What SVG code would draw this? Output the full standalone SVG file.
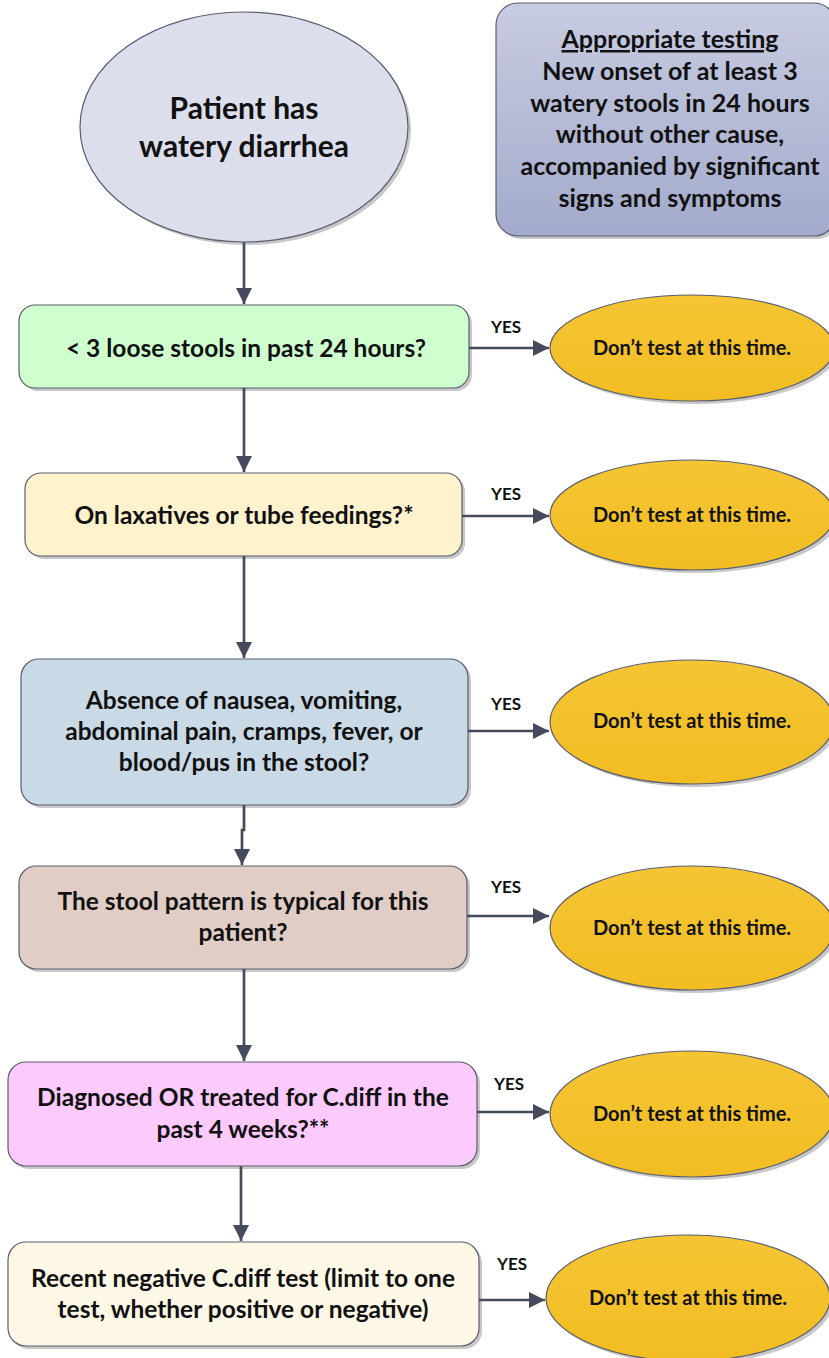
<svg xmlns="http://www.w3.org/2000/svg" width="829" height="1358" viewBox="0 0 829 1358">
<defs>
<linearGradient id="gInfo" x1="0" y1="0" x2="0" y2="1"><stop offset="0" stop-color="#c8cce2"/><stop offset="1" stop-color="#a3aacb"/></linearGradient>
<linearGradient id="gGold" x1="0" y1="0" x2="0" y2="1"><stop offset="0" stop-color="#f5c534"/><stop offset="1" stop-color="#f2bd22"/></linearGradient>
<marker id="arr" viewBox="0 0 10 10" refX="10" refY="5" markerWidth="6" markerHeight="6" markerUnits="strokeWidth" orient="auto"><path d="M0,0 L10,5 L0,10 z" fill="#474a5c"/></marker>
</defs>
<style>
.sh{fill:#9a9a9a;opacity:0.55}
.box{stroke:#5a5d6e;stroke-width:1.2}
.t{font-family:Lato,"Open Sans","Liberation Sans",sans-serif;font-weight:bold;fill:#111;text-anchor:middle}
.big{font-size:30px}
.bx{font-size:24.5px}
.info{font-size:25px}
.el{font-size:20px}
.yes{font-size:17px}
.c{stroke:#474a5c;stroke-width:2.7;fill:none;marker-end:url(#arr)}
</style>
<g id="start">
<ellipse class="sh" cx="247" cy="130" rx="164" ry="115"/>
<ellipse class="box" cx="244" cy="127" rx="164" ry="115" fill="#dcdeec"/>
<text class="t big" x="244" y="119">Patient has</text>
<text class="t big" x="244" y="157">watery diarrhea</text>
</g>
<g id="info">
<rect class="sh" x="499" y="6" width="340" height="233" rx="22"/>
<rect class="box" x="496" y="3" width="340" height="233" rx="22" fill="url(#gInfo)"/>
<text class="t info" x="670" y="48" text-decoration="underline">Appropriate testing</text>
<text class="t info" x="670" y="80">New onset of at least 3</text>
<text class="t info" x="670" y="112">watery stools in 24 hours</text>
<text class="t info" x="670" y="143">without other cause,</text>
<text class="t info" x="670" y="175">accompanied by significant</text>
<text class="t info" x="670" y="207">signs and symptoms</text>
</g>
<g id="q1">
<rect class="sh" x="22" y="308" width="450" height="83" rx="16"/>
<rect class="box" x="19" y="305" width="450" height="83" rx="16" fill="#cfffcf"/>
<text class="t bx" x="246" y="357">&lt; 3 loose stools in past 24 hours?</text>
</g>
<g id="r1">
<ellipse class="sh" cx="695" cy="351" rx="142" ry="53"/>
<ellipse class="box" cx="692" cy="348" rx="142" ry="53" fill="url(#gGold)"/>
<text class="t el" x="692" y="355">Don’t test at this time.</text>
</g>
<g id="q2">
<rect class="sh" x="28" y="476" width="437" height="83" rx="16"/>
<rect class="box" x="25" y="473" width="437" height="83" rx="16" fill="#fff2cc"/>
<text class="t bx" x="244" y="524">On laxatives or tube feedings?*</text>
</g>
<g id="r2">
<ellipse class="sh" cx="695" cy="518" rx="142" ry="55"/>
<ellipse class="box" cx="692" cy="515" rx="142" ry="55" fill="url(#gGold)"/>
<text class="t el" x="692" y="522">Don’t test at this time.</text>
</g>
<g id="q3">
<rect class="sh" x="24" y="662" width="447" height="146" rx="18"/>
<rect class="box" x="21" y="659" width="447" height="146" rx="18" fill="#c9d9e5"/>
<text class="t bx" x="244" y="709">Absence of nausea, vomiting,</text>
<text class="t bx" x="244" y="740">abdominal pain, cramps, fever, or</text>
<text class="t bx" x="244" y="771">blood/pus in the stool?</text>
</g>
<g id="r3">
<ellipse class="sh" cx="695" cy="725" rx="142" ry="62"/>
<ellipse class="box" cx="692" cy="722" rx="142" ry="62" fill="url(#gGold)"/>
<text class="t el" x="692" y="728">Don’t test at this time.</text>
</g>
<g id="q4">
<rect class="sh" x="22" y="869" width="448" height="103" rx="17"/>
<rect class="box" x="19" y="866" width="448" height="103" rx="17" fill="#e0cdc6"/>
<text class="t bx" x="243" y="910">The stool pattern is typical for this</text>
<text class="t bx" x="243" y="941">patient?</text>
</g>
<g id="r4">
<ellipse class="sh" cx="695" cy="931" rx="142" ry="62"/>
<ellipse class="box" cx="692" cy="928" rx="142" ry="62" fill="url(#gGold)"/>
<text class="t el" x="692" y="935">Don’t test at this time.</text>
</g>
<g id="q5">
<rect class="sh" x="11" y="1065" width="469" height="104" rx="18"/>
<rect class="box" x="8" y="1062" width="469" height="104" rx="18" fill="#fdcafd"/>
<text class="t bx" x="243" y="1106">Diagnosed OR treated for C.diff in the</text>
<text class="t bx" x="243" y="1138">past 4 weeks?**</text>
</g>
<g id="r5">
<ellipse class="sh" cx="695" cy="1117" rx="142" ry="63"/>
<ellipse class="box" cx="692" cy="1114" rx="142" ry="63" fill="url(#gGold)"/>
<text class="t el" x="692" y="1121">Don’t test at this time.</text>
</g>
<g id="q6">
<rect class="sh" x="11" y="1245" width="471" height="104" rx="18"/>
<rect class="box" x="8" y="1242" width="471" height="104" rx="18" fill="#fff8e6"/>
<text class="t bx" x="243" y="1287">Recent negative C.diff test (limit to one</text>
<text class="t bx" x="243" y="1318">test, whether positive or negative)</text>
</g>
<g id="r6">
<ellipse class="sh" cx="691" cy="1301" rx="142" ry="63"/>
<ellipse class="box" cx="688" cy="1298" rx="142" ry="63" fill="url(#gGold)"/>
<text class="t el" x="688" y="1305">Don’t test at this time.</text>
</g>
<g id="connectors">
<path class="c" d="M244,242 L244,304"/>
<path class="c" d="M244,388 L244,472"/>
<path class="c" d="M244,556 L244,658"/>
<path class="c" d="M244,805 L244,830 L242,830 L242,865"/>
<path class="c" d="M244,969 L244,1061"/>
<path class="c" d="M241,1166 L241,1241"/>
<path class="c" d="M469,348 L549,348"/>
<path class="c" d="M462,516 L549,516"/>
<path class="c" d="M468,731 L549,731"/>
<path class="c" d="M467,916 L549,916"/>
<path class="c" d="M477,1112 L549,1112"/>
<path class="c" d="M479,1300 L545,1300"/>
<text class="t yes" x="506" y="333">YES</text>
<text class="t yes" x="506" y="500">YES</text>
<text class="t yes" x="506" y="710">YES</text>
<text class="t yes" x="506" y="893">YES</text>
<text class="t yes" x="509" y="1090">YES</text>
<text class="t yes" x="512" y="1270">YES</text>
</g>
</svg>
